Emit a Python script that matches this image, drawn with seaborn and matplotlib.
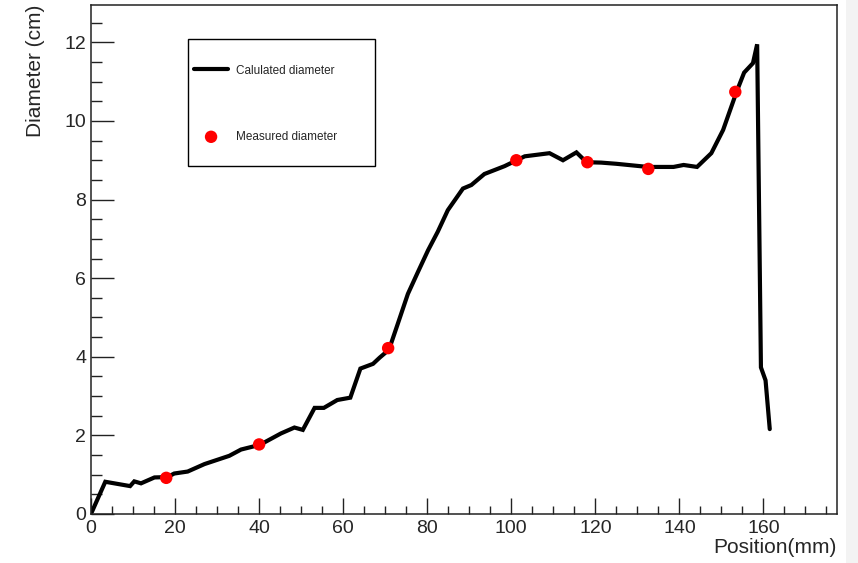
import numpy as np
import pandas as pd
import matplotlib
matplotlib.use("Agg")
import matplotlib.pyplot as plt
import seaborn as sns
from matplotlib.patches import Rectangle
from matplotlib.ticker import MultipleLocator, AutoMinorLocator

# calculated diameter profile
calc_pos = [0.2, 3.4, 9.3, 10.3, 11.9, 15.1, 18.2, 19.8, 23.0, 27.0, 32.9, 35.7,
            40.2, 45.2, 48.4, 50.4, 53.2, 55.4, 58.6, 61.7, 64.1, 67.1, 68.7,
            70.9, 73.0, 75.4, 77.8, 80.2, 82.5, 84.9, 88.5, 90.5, 93.6, 98.4,
            101.3, 103.2, 109.1, 112.3, 115.5, 117.9, 121.4, 125.0, 132.5,
            138.6, 141.0, 144.2, 147.6, 150.4, 153.6, 155.4, 157.5, 158.5,
            159.4, 160.5, 161.5]
calc_diam = [0.05, 0.82, 0.71, 0.83, 0.78, 0.93, 0.94, 1.03, 1.08, 1.27, 1.48, 1.64,
             1.76, 2.05, 2.20, 2.14, 2.70, 2.70, 2.90, 2.96, 3.70, 3.82, 3.98,
             4.18, 4.84, 5.60, 6.16, 6.71, 7.18, 7.73, 8.28, 8.37, 8.65, 8.85,
             9.00, 9.10, 9.18, 9.00, 9.20, 8.95, 8.94, 8.91, 8.83,
             8.83, 8.88, 8.83, 9.18, 9.77, 10.74, 11.23, 11.47, 11.95,
             3.73, 3.40, 2.16]

# measured diameter points
meas_pos = [17.9, 40.0, 70.7, 101.2, 118.1, 132.6, 153.3]
meas_diam = [0.92, 1.77, 4.22, 9.00, 8.95, 8.78, 10.74]

calc = pd.DataFrame({"pos": calc_pos, "diam": calc_diam})
meas = pd.DataFrame({"pos": meas_pos, "diam": meas_diam})

sns.set_theme(style="white")
plt.rcParams["font.family"] = ["Liberation Sans", "DejaVu Sans"]

fig = plt.figure(figsize=(8.58, 5.63), dpi=100)
ax = fig.add_axes([91 / 858, 1 - 514 / 563, 746 / 858, 509 / 563])

sns.lineplot(data=calc, x="pos", y="diam", ax=ax, color="black", lw=3,
             sort=False, estimator=None, label="Calulated diameter",
             solid_joinstyle="miter", zorder=2)
sns.scatterplot(data=meas, x="pos", y="diam", ax=ax, color="red", s=80,
                edgecolor="none", label="Measured diameter", zorder=3)

ax.set_xlim(0, 177.5)
ax.set_ylim(0, 12.95)
ax.xaxis.set_major_locator(MultipleLocator(20))
ax.yaxis.set_major_locator(MultipleLocator(2))
ax.xaxis.set_minor_locator(AutoMinorLocator(4))
ax.yaxis.set_minor_locator(AutoMinorLocator(4))
ax.tick_params(axis="x", which="major", direction="in", length=11.5, width=1,
               labelsize=14, pad=4, color="#222222", bottom=True, top=False)
ax.tick_params(axis="x", which="minor", direction="in", length=5.8, width=1,
               color="#222222", bottom=True, top=False)
ax.tick_params(axis="y", which="major", direction="in", length=16.5, width=1,
               labelsize=14, pad=3.5, color="#222222", left=True, right=False)
ax.tick_params(axis="y", which="minor", direction="in", length=8, width=1,
               color="#222222", left=True, right=False)
for sp in ax.spines.values():
    sp.set_color("#222222")
    sp.set_linewidth(1.1)

ax.set_xlabel("Position(mm)", fontsize=15, loc="right")
ax.set_ylabel("Diameter (cm)", fontsize=15, loc="top")
ax.xaxis.set_label_coords(1.0, -0.048)
ax.yaxis.set_label_coords(-0.061, 1.0)

# legend with a hand-drawn frame, like the ROOT original
ax.legend(loc="center left", bbox_to_anchor=(0.138, 0.806), frameon=False,
          fontsize=8.5, handlelength=2.9, handletextpad=0.7, labelspacing=4.6,
          borderpad=0, borderaxespad=0)
ax.add_patch(Rectangle((0.130, 0.684), 0.251, 0.2495, transform=ax.transAxes,
                       fill=False, edgecolor="black", lw=1, zorder=4))

fig.patches.append(Rectangle((846 / 858, 0), 12 / 858, 1, transform=fig.transFigure,
                             facecolor="#f3f3f3", edgecolor="none", zorder=0))

fig.savefig("out.png", dpi=100)
